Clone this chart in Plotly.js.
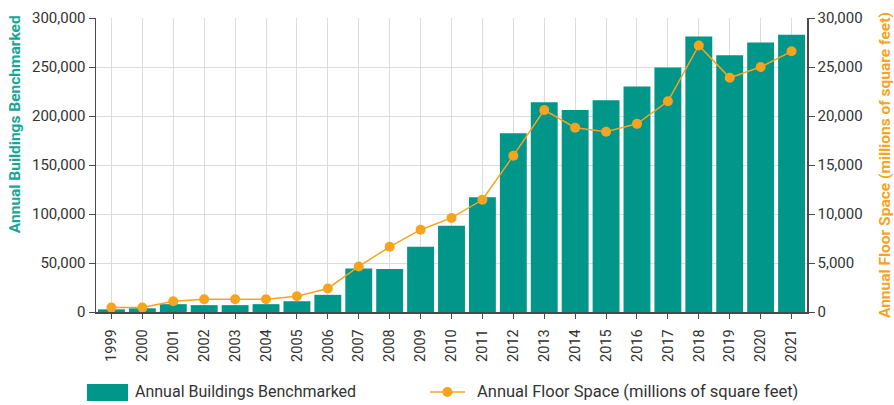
<!DOCTYPE html>
<html>
<head>
<meta charset="utf-8">
<script src="https://cdn.plot.ly/plotly-3.0.1.min.js"></script>
<style>
  html, body { margin: 0; padding: 0; background: #fff; }
  #chart { width: 894px; height: 405px; }
</style>
</head>
<body>
<div id="chart"></div>
<script>
// Benchmarking activity by year
const years = ['1999','2000','2001','2002','2003','2004','2005','2006','2007','2008','2009',
               '2010','2011','2012','2013','2014','2015','2016','2017','2018','2019','2020','2021'];

// Buildings benchmarked each year
const buildings = [2700, 3800, 8000, 7000, 7000, 8000, 11000, 17500, 44500, 44000, 66500,
                   88000, 117000, 182500, 214000, 206000, 216000, 230000, 249500, 281000, 262000, 275000, 283000];

// Floor space benchmarked each year, millions of square feet
const floorSpace = [450, 450, 1100, 1300, 1300, 1300, 1600, 2400, 4650, 6650, 8400,
                    9600, 11450, 15950, 20600, 18800, 18400, 19200, 21500, 27200, 23900, 25000, 26600];

const buildingsLabel = 'Annual Buildings Benchmarked';
const floorLabel = 'Annual Floor Space (millions of square feet)';

const TEAL = '#00968a';
const ORANGE = '#f6a41e';
const AXIS = '#4a4a4a';
const GRID = '#dcdcdc';
const TEXT = '#333333';

const traces = [
  {
    type: 'bar',
    name: buildingsLabel,
    x: years,
    y: buildings,
    marker: { color: TEAL, line: { width: 0 } },
    hoverinfo: 'x+y'
  },
  {
    type: 'scatter',
    mode: 'lines+markers',
    name: floorLabel,
    x: years,
    y: floorSpace,
    yaxis: 'y2',
    line: { color: ORANGE, width: 1.5 },
    marker: { color: ORANGE, size: 10 },
    hoverinfo: 'x+y'
  }
];

const layout = {
  width: 894,
  height: 405,
  margin: { l: 96, r: 87, t: 18, b: 93 },
  paper_bgcolor: '#ffffff',
  plot_bgcolor: '#ffffff',
  font: { family: 'Roboto, "Open Sans", sans-serif', size: 15, color: TEXT },
  showlegend: false,
  bargap: 0.13,
  xaxis: {
    type: 'category',
    range: [-0.5, years.length - 0.5],
    showgrid: true,
    gridcolor: GRID,
    gridwidth: 1,
    showline: true,
    linecolor: AXIS,
    linewidth: 1.5,
    ticks: 'outside',
    ticklen: 5,
    tickcolor: AXIS,
    tickangle: -90,
    ticklabelstandoff: 5,
    tickfont: { size: 14.5, color: TEXT },
    zeroline: false,
    fixedrange: true
  },
  yaxis: {
    range: [0, 300000],
    dtick: 50000,
    tickformat: ',d',
    showgrid: true,
    gridcolor: GRID,
    gridwidth: 1,
    showline: true,
    linecolor: AXIS,
    linewidth: 1.5,
    ticks: 'outside',
    ticklen: 6,
    tickcolor: AXIS,
    tickfont: { size: 15, color: TEXT },
    zeroline: false,
    fixedrange: true
  },
  yaxis2: {
    overlaying: 'y',
    side: 'right',
    range: [0, 30000],
    dtick: 5000,
    tickformat: ',d',
    showgrid: false,
    showline: true,
    linecolor: AXIS,
    linewidth: 1.5,
    ticks: 'outside',
    ticklen: 6,
    tickcolor: AXIS,
    tickfont: { size: 15, color: TEXT },
    zeroline: false,
    fixedrange: true
  },
  annotations: [
    // axis titles
    {
      text: '<b>' + buildingsLabel + '</b>',
      xref: 'paper', yref: 'paper',
      x: -0.1139, y: 0.639,
      textangle: -90, showarrow: false,
      xanchor: 'center', yanchor: 'middle',
      font: { size: 15.5, color: '#17a596' }
    },
    {
      text: '<b>' + floorLabel + '</b>',
      xref: 'paper', yref: 'paper',
      x: 1.1097, y: 0.5,
      textangle: -90, showarrow: false,
      xanchor: 'center', yanchor: 'middle',
      font: { size: 15.5, color: ORANGE }
    },
    // legend labels
    {
      text: buildingsLabel,
      xref: 'paper', yref: 'paper',
      x: 0.052, y: -0.272,
      xanchor: 'left', yanchor: 'middle', showarrow: false,
      font: { size: 16, color: TEXT }
    },
    {
      text: floorLabel,
      xref: 'paper', yref: 'paper',
      x: 0.533, y: -0.272,
      xanchor: 'left', yanchor: 'middle', showarrow: false,
      font: { size: 16.5, color: TEXT }
    }
  ],
  shapes: [
    // legend swatch for the bars
    {
      type: 'rect', xref: 'paper', yref: 'paper',
      x0: -0.0127, x1: 0.045, y0: -0.303, y1: -0.245,
      fillcolor: TEAL, line: { width: 0 }
    },
    // legend symbol for the line
    {
      type: 'line', xref: 'paper', yref: 'paper',
      x0: 0.4698, x1: 0.519, y0: -0.272, y1: -0.272,
      line: { color: ORANGE, width: 1.5 }
    },
    {
      type: 'circle', xref: 'paper', yref: 'paper',
      xsizemode: 'pixel', ysizemode: 'pixel',
      xanchor: 0.4943, yanchor: -0.272,
      x0: -5, x1: 5, y0: -5, y1: 5,
      fillcolor: ORANGE, line: { width: 0 }
    }
  ]
};

Plotly.newPlot('chart', traces, layout, { displayModeBar: false, staticPlot: true });
</script>
</body>
</html>
